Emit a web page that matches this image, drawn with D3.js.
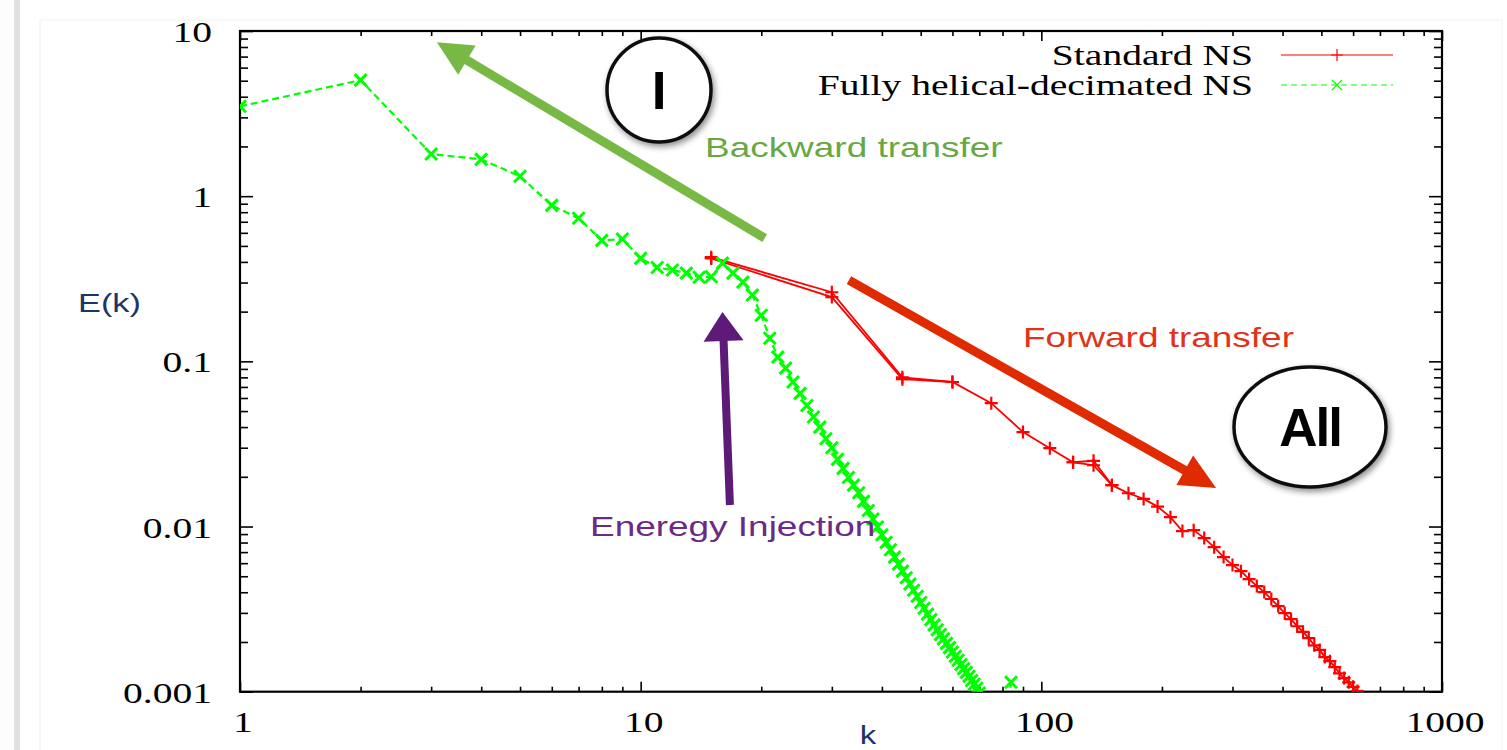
<!DOCTYPE html>
<html>
<head>
<meta charset="utf-8">
<script src="https://cdn.jsdelivr.net/npm/d3@7/dist/d3.min.js"></script>
<style>
  html, body { margin: 0; padding: 0; background: #fff; }
  svg { display: block; }
</style>
</head>
<body>
<svg id="chart" width="1507" height="750"></svg>
<script>
// ---- data ----
const greenK = [1, 2, 3, 4, 5, 6, 7, 8, 9, 10, 11, 12, 13, 14, 15, 16, 17, 18, 19, 20,
  21, 22, 23, 24, 25, 26, 27, 28, 29, 30, 31, 32, 33, 34, 35, 36, 37, 38, 39, 40,
  41, 42, 43, 44, 45, 46, 47, 48, 49, 50, 51, 52, 53, 54, 55, 56, 57, 58, 59, 60,
  61, 62, 63, 64, 65, 66, 67, 68, 69, 70, 83, 84];
const greenE = [3.5, 5.04, 1.80, 1.67, 1.32, 0.88, 0.735, 0.54, 0.55, 0.42, 0.37, 0.357, 0.342, 0.323, 0.325, 0.393, 0.342, 0.302, 0.252, 0.19,
  0.138, 0.106, 0.091, 0.075, 0.064, 0.054, 0.046, 0.040, 0.034, 0.030, 0.0255, 0.0225, 0.0198, 0.0178, 0.0160, 0.0142, 0.0125, 0.0111, 0.00993, 0.00891,
  0.00802, 0.00723, 0.00653, 0.00592, 0.00537, 0.00490, 0.00449, 0.00411, 0.00378, 0.00347, 0.00320, 0.00295, 0.00273, 0.00254, 0.00237, 0.00222, 0.00209, 0.00196, 0.00185, 0.00174,
  0.00164, 0.00155, 0.00146, 0.00138, 0.00131, 0.00124, 0.00117, 0.00111, 0.00105, 0.00098, 0.00086, 0.00114];

const redK = [15, 30, 45, 60, 75, 90, 105, 120, 135, 150, 165, 180, 195, 210, 225, 240, 255, 270, 285, 300,
  315, 330, 345, 360, 375, 390, 405, 420, 435, 450, 465, 480, 495, 510, 525, 540, 555, 570, 585, 600, 615, 630];
const redE = [0.427, 0.262, 0.080, 0.075, 0.0558, 0.0373, 0.0298, 0.0245, 0.0250, 0.0178, 0.0159, 0.0147, 0.0132, 0.0114, 0.00938, 0.00951, 0.00851, 0.00750, 0.00653, 0.00584,
  0.00537, 0.00481, 0.00436, 0.00401, 0.00364, 0.00330, 0.00299, 0.00275, 0.00249, 0.00230, 0.00211, 0.00191, 0.00179, 0.00162, 0.00153, 0.00141, 0.00129, 0.00121, 0.00114, 0.00107, 0.00101, 0.00094];
// the second, slightly lower red snapshot visible at k = 30, 45 and 135
const redLowK = [15, 30, 45, 60];
const redLowE = [0.42, 0.245, 0.078, 0.075];
const redLowK2 = [120, 135, 150];
const redLowE2 = [0.0245, 0.0235, 0.0178];

const xTicks = [1, 10, 100, 1000];
const xTickLabels = ['1', '10', '100', '1000'];
const yTicks = [10, 1, 0.1, 0.01, 0.001];
const yTickLabels = ['10', '1', '0.1', '0.01', '0.001'];

const seriesNames = ['Standard NS', 'Fully helical-decimated NS'];

// annotation anchors in data space [k, E]
const backwardArrow = [[20.4, 0.557], [3.1, 8.55]];
const forwardArrow = [[33.1, 0.31], [273, 0.0171]];
const injectionArrow = [[16.7, 0.0135], [16.0, 0.199]];

// ---- layout ----
const svg = d3.select('#chart');
const plotLeft = 240, plotTop = 31, plotRight = 1442, plotBottom = 691.7;
const stretch = 1.32;   // the reference is stretched sideways
const serif = '"Liberation Serif", "Times New Roman", serif';
const sans = '"Liberation Sans", Arial, sans-serif';

const x = d3.scaleLog().domain([1, 1000]).range([plotLeft, plotRight]);
const y = d3.scaleLog().domain([0.001, 10]).range([plotBottom, plotTop]);

const defs = svg.append('defs');
defs.append('clipPath').attr('id', 'plot-clip')
  .append('rect')
  .attr('x', plotLeft).attr('y', plotTop)
  .attr('width', plotRight - plotLeft).attr('height', plotBottom - plotTop);

const shadow = defs.append('filter').attr('id', 'soft-shadow')
  .attr('x', '-30%').attr('y', '-30%').attr('width', '160%').attr('height', '160%');
shadow.append('feDropShadow')
  .attr('dx', 2).attr('dy', 3).attr('stdDeviation', 3)
  .attr('flood-color', '#000').attr('flood-opacity', 0.45);

// slide-like background
svg.append('rect').attr('x', 0).attr('y', 0).attr('width', 1507).attr('height', 750).attr('fill', '#fdfdfd');
svg.append('rect').attr('x', 14).attr('y', 0).attr('width', 6).attr('height', 750).attr('fill', '#e0e0e0');
svg.append('rect').attr('x', 20).attr('y', 0).attr('width', 1487).attr('height', 750).attr('fill', '#fff');
svg.append('rect').attr('x', 40).attr('y', 20).attr('width', 1462).attr('height', 740)
  .attr('fill', '#fff').attr('stroke', '#f2f2f2');

function addText(px, py, str, opts) {
  return svg.append('text')
    .attr('transform', `translate(${px},${py}) scale(${opts.sx || stretch},1)`)
    .attr('text-anchor', opts.anchor || 'start')
    .style('font-family', opts.family || serif)
    .style('font-size', opts.size + 'px')
    .style('font-weight', opts.weight || 'normal')
    .attr('fill', opts.color || '#000')
    .text(str);
}

// ---- axes (ticks point inward, mirrored on all four sides) ----
const minorX = [];
[1, 10, 100].forEach(d => { for (let m = 2; m <= 9; m++) minorX.push(d * m); });
const minorY = [];
[0.001, 0.01, 0.1, 1].forEach(d => { for (let m = 2; m <= 9; m++) minorY.push(d * m); });

function drawAxis(axis, tx, ty) {
  const g = svg.append('g').attr('transform', `translate(${tx},${ty})`).call(axis);
  g.select('.domain').remove();
  g.selectAll('.tick line').attr('stroke', '#000').attr('stroke-width', 1.6);
  g.selectAll('.tick text').remove();
}

drawAxis(d3.axisBottom(x).tickValues(xTicks).tickSizeInner(-10).tickSizeOuter(0), 0, plotBottom);
drawAxis(d3.axisBottom(x).tickValues(minorX).tickSizeInner(-5).tickSizeOuter(0), 0, plotBottom);
drawAxis(d3.axisTop(x).tickValues(xTicks).tickSizeInner(-10).tickSizeOuter(0), 0, plotTop);
drawAxis(d3.axisTop(x).tickValues(minorX).tickSizeInner(-5).tickSizeOuter(0), 0, plotTop);
drawAxis(d3.axisLeft(y).tickValues(yTicks).tickSizeInner(-13).tickSizeOuter(0), plotLeft, 0);
drawAxis(d3.axisLeft(y).tickValues(minorY).tickSizeInner(-8).tickSizeOuter(0), plotLeft, 0);
drawAxis(d3.axisRight(y).tickValues(yTicks).tickSizeInner(-13).tickSizeOuter(0), plotRight, 0);
drawAxis(d3.axisRight(y).tickValues(minorY).tickSizeInner(-8).tickSizeOuter(0), plotRight, 0);

svg.append('rect')
  .attr('x', plotLeft).attr('y', plotTop)
  .attr('width', plotRight - plotLeft).attr('height', plotBottom - plotTop)
  .attr('fill', 'none').attr('stroke', '#000').attr('stroke-width', 2.2);

xTicks.forEach((t, i) => {
  addText(x(t) + 3, 732, xTickLabels[i], { size: 30, anchor: 'middle' });
});
yTicks.forEach((t, i) => {
  addText(plotLeft - 28, y(t) + 11, yTickLabels[i], { size: 30, anchor: 'end' });
});

addText(78, 312, 'E(k)', { size: 26, family: sans, color: '#1c3466' });
addText(868, 744, 'k', { size: 25, family: sans, color: '#1c3466', anchor: 'middle' });

// ---- series ----
const plot = svg.append('g').attr('clip-path', 'url(#plot-clip)');
const toPoints = (ks, es) => ks.map((k, i) => ({ k, e: es[i] }));
const greenData = toPoints(greenK, greenE);
const redData = toPoints(redK, redE);

const line = d3.line().x(d => x(d.k)).y(d => y(d.e));

const crossPath = s => `M${-s},${-s}L${s},${s}M${-s},${s}L${s},${-s}`;
const plusPath = s => `M${-s},0L${s},0M0,${-s}L0,${s}`;

function drawRed(data) {
  plot.append('path')
    .datum(data)
    .attr('fill', 'none')
    .attr('stroke', '#ff0000')
    .attr('stroke-width', 1.8)
    .attr('d', line);
  plot.append('g').selectAll('path')
    .data(data)
    .enter().append('path')
    .attr('transform', d => `translate(${x(d.k)},${y(d.e)})`)
    .attr('d', plusPath(6.5))
    .attr('stroke', '#ff0000')
    .attr('stroke-width', 2.2);
}
drawRed(redData);
drawRed(toPoints(redLowK, redLowE));
drawRed(toPoints(redLowK2, redLowE2));

plot.append('path')
  .datum(greenData)
  .attr('fill', 'none')
  .attr('stroke', '#00ff00')
  .attr('stroke-width', 2.2)
  .attr('stroke-dasharray', '7,4')
  .attr('d', line);

plot.selectAll('.green-mark')
  .data(greenData)
  .enter().append('path')
  .attr('class', 'green-mark')
  .attr('transform', d => `translate(${x(d.k)},${y(d.e)})`)
  .attr('d', crossPath(6))
  .attr('stroke', '#00ff00')
  .attr('stroke-width', 3);

// ---- legend ----
const legendRows = [
  { name: seriesNames[0], color: '#ff0000', dash: null, marker: plusPath(6), y: 55 },
  { name: seriesNames[1], color: '#00ff00', dash: '6,4', marker: crossPath(5), y: 85 }
];
legendRows.forEach(r => {
  addText(1253, r.y + 10, r.name, { size: 30, anchor: 'end' });
  svg.append('line')
    .attr('x1', 1281).attr('x2', 1393).attr('y1', r.y).attr('y2', r.y)
    .attr('stroke', r.color).attr('stroke-width', 1.2)
    .attr('stroke-dasharray', r.dash);
  svg.append('path')
    .attr('transform', `translate(1337,${r.y})`)
    .attr('d', r.marker)
    .attr('stroke', r.color).attr('stroke-width', 1.2);
});

// ---- annotation arrows ----
function arrow(pts, color, width, headLen, headHalf) {
  const x0 = x(pts[0][0]), y0 = y(pts[0][1]);
  const x1 = x(pts[1][0]), y1 = y(pts[1][1]);
  const len = Math.hypot(x1 - x0, y1 - y0);
  const ux = (x1 - x0) / len, uy = (y1 - y0) / len;
  const bx = x1 - ux * headLen, by = y1 - uy * headLen;
  svg.append('line')
    .attr('x1', x0).attr('y1', y0)
    .attr('x2', bx + ux * 4).attr('y2', by + uy * 4)
    .attr('stroke', color).attr('stroke-width', width);
  svg.append('path')
    .attr('d', `M${x1},${y1}L${bx - uy * headHalf},${by + ux * headHalf}L${bx + uy * headHalf},${by - ux * headHalf}Z`)
    .attr('fill', color);
}

arrow(backwardArrow, '#78b845', 9, 35, 17);
arrow(forwardArrow, '#e02a00', 9, 36, 17);
arrow(injectionArrow, '#5e1a78', 8, 29, 20);

addText(705, 157, 'Backward transfer', { size: 28, family: sans, color: '#67a845' });
addText(1023, 347, 'Forward transfer', { size: 28, family: sans, color: '#e1321a' });
addText(590, 536, 'Eneregy Injection', { size: 28, family: sans, color: '#6b2a86' });

// ---- circled regime labels ----
function badge(cx, cy, rx, ry, label, size, spacing) {
  const g = svg.append('g').attr('filter', 'url(#soft-shadow)');
  g.append('ellipse')
    .attr('cx', cx).attr('cy', cy).attr('rx', rx).attr('ry', ry)
    .attr('fill', '#fff').attr('stroke', '#111').attr('stroke-width', 3.5);
  g.append('text')
    .attr('x', cx).attr('y', cy + size * 0.36)
    .attr('text-anchor', 'middle')
    .style('font-family', sans)
    .style('font-weight', 'bold')
    .style('font-size', size + 'px')
    .style('letter-spacing', spacing + 'px')
    .text(label);
}

badge(659, 90, 52, 52, 'I', 53, 0);
badge(1310, 427, 76, 60, 'All', 53, -2);
</script>
</body>
</html>
